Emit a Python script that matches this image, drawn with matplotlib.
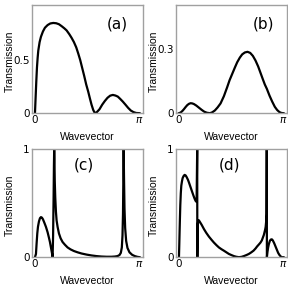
import numpy as np
import matplotlib
matplotlib.use("Agg")
import matplotlib.pyplot as plt

PI = np.pi

# panel (a)
ka = [0, 0.02, 0.04, 0.06, 0.08, 0.10, 0.14, 0.18, 0.24, 0.30, 0.38, 0.46, 0.55,
      0.64, 0.72, 0.80, 0.88, 0.95, 1.03, 1.10, 1.17, 1.24, 1.30, 1.36, 1.42, 1.48,
      1.54, 1.60, 1.65, 1.70, 1.75, 1.80, 1.86, 1.94, 2.02, 2.10, 2.18, 2.26, 2.34,
      2.42, 2.49, 2.56, 2.64, 2.72, 2.80, 2.88, 2.96, 3.04, PI]
ta = [0, 0.15, 0.30, 0.43, 0.52, 0.59, 0.67, 0.72, 0.77, 0.805, 0.83, 0.845, 0.85,
      0.847, 0.838, 0.82, 0.80, 0.78, 0.745, 0.71, 0.67, 0.62, 0.5625, 0.50, 0.425, 0.35,
      0.27, 0.203, 0.14, 0.08, 0.031, 0, 0.01, 0.0375, 0.08, 0.115, 0.145, 0.165, 0.172,
      0.166, 0.156, 0.135, 0.109, 0.08, 0.05, 0.025, 0.01, 0.002, 0]

# panel (b)
kb = [0, 0.05, 0.10, 0.15, 0.20, 0.25, 0.30, 0.35, 0.40, 0.45, 0.52, 0.60, 0.68,
      0.76, 0.84, 0.93, 1.00, 1.08, 1.16, 1.25, 1.35, 1.45, 1.52, 1.60, 1.68, 1.75,
      1.83, 1.90, 1.98, 2.06, 2.14, 2.22, 2.30, 2.38, 2.45, 2.52, 2.58, 2.64, 2.72,
      2.80, 2.88, 2.95, 3.02, 3.08, PI]
tb = [0, 0.003, 0.01, 0.019, 0.029, 0.038, 0.044, 0.047, 0.046, 0.043, 0.036, 0.026, 0.016,
      0.007, 0.002, 0, 0.004, 0.013, 0.027, 0.046, 0.08, 0.123, 0.155, 0.185, 0.215, 0.24,
      0.262, 0.277, 0.286, 0.289, 0.284, 0.27, 0.248, 0.22, 0.19, 0.16, 0.135, 0.115, 0.083,
      0.055, 0.03, 0.015, 0.005, 0.001, 0]

# panel (c)
kc = [0, 0.03, 0.05, 0.07, 0.09, 0.12, 0.15, 0.18, 0.21, 0.24, 0.28, 0.33, 0.38,
      0.42, 0.45, 0.48, 0.51, 0.53, 0.545, 0.56, 0.57, 0.578, 0.585, 0.595, 0.61, 0.63,
      0.65, 0.68, 0.72, 0.77, 0.83, 0.90, 0.98, 1.07, 1.17, 1.28, 1.40, 1.55, 1.70,
      1.85, 2.00, 2.15, 2.30, 2.40, 2.48, 2.54, 2.58, 2.61, 2.63, 2.645, 2.655, 2.665,
      2.675, 2.69, 2.71, 2.74, 2.78, 2.84, 2.92, 3.00, 3.08, PI]
tc = [0, 0.03, 0.13, 0.22, 0.28, 0.33, 0.36, 0.37, 0.365, 0.35, 0.32, 0.28, 0.23,
      0.18, 0.14, 0.09, 0.04, 0, 0.2, 0.55, 0.85, 1.0, 0.9, 0.7, 0.55, 0.42,
      0.34, 0.28, 0.22, 0.175, 0.14, 0.115, 0.09, 0.072, 0.057, 0.045, 0.034, 0.024, 0.016,
      0.01, 0.006, 0.004, 0.004, 0.006, 0.01, 0.02, 0.04, 0.09, 0.2, 0.4, 0.7, 1.0,
      0.75, 0.45, 0.27, 0.15, 0.085, 0.045, 0.022, 0.01, 0.003, 0]

# panel (d)
kd = [0, 0.01, 0.02, 0.03, 0.04, 0.055, 0.07, 0.09, 0.11, 0.14, 0.17, 0.20, 0.23,
      0.27, 0.30, 0.35, 0.40, 0.44, 0.47, 0.50, 0.53, 0.548, 0.552, 0.56, 0.57, 0.58,
      0.60, 0.63, 0.68, 0.75, 0.82, 0.90, 0.98, 1.05, 1.13, 1.20, 1.28, 1.35, 1.43,
      1.50, 1.58, 1.65, 1.72, 1.80, 1.88, 1.95, 2.03, 2.10, 2.17, 2.24, 2.30, 2.35,
      2.40, 2.45, 2.49, 2.52, 2.55, 2.57, 2.59, 2.605, 2.62, 2.63, 2.638, 2.642, 2.66,
      2.68, 2.70, 2.73, 2.76, 2.79, 2.82, 2.86, 2.90, 2.94, 2.98, 3.02, 3.06, 3.09, PI]
td = [0, 0.12, 0.25, 0.37, 0.48, 0.59, 0.66, 0.70, 0.73, 0.75, 0.76, 0.755, 0.74,
      0.715, 0.69, 0.645, 0.60, 0.565, 0.54, 0.52, 0.51, 1.0, 0.0, 0.2, 0.31, 0.34,
      0.34, 0.325, 0.30, 0.26, 0.225, 0.19, 0.16, 0.135, 0.11, 0.09, 0.073, 0.06, 0.044,
      0.03, 0.019, 0.01, 0.004, 0.0, 0.003, 0.01, 0.02, 0.03, 0.044, 0.06, 0.08, 0.10,
      0.117, 0.135, 0.155, 0.18, 0.205, 0.23, 0.255, 0.28, 0.33, 0.40, 1.0, 0.0, 0.05,
      0.09, 0.12, 0.15, 0.163, 0.165, 0.155, 0.13, 0.10, 0.07, 0.04, 0.02, 0.006, 0, 0]

panels = [
    (ka, ta, 1.02, [0, 0.5], ["0", "0.5"], "(a)", (0.77, 0.82)),
    (kb, tb, 0.51, [0, 0.3], ["0", "0.3"], "(b)", (0.79, 0.82)),
    (kc, tc, 1.0, [0, 1], ["0", "1"], "(c)", (0.47, 0.85)),
    (kd, td, 1.0, [0, 1], ["0", "1"], "(d)", (0.48, 0.85)),
]

fig = plt.figure(figsize=(2.88, 2.88), dpi=100)
rects = [
    [0.111, 0.607, 0.385, 0.376],
    [0.611, 0.607, 0.385, 0.376],
    [0.111, 0.107, 0.385, 0.376],
    [0.611, 0.107, 0.385, 0.376],
]
for rect, (k, t, ytop, yt, ytl, lab, lpos) in zip(rects, panels):
    ax = fig.add_axes(rect)
    ax.plot(k, t, color="black", lw=1.6, solid_joinstyle="round")
    ax.set_xlim(-0.09, PI + 0.1)
    ax.set_ylim(0, ytop)
    ax.set_xticks([0, PI])
    ax.set_xticklabels(["0", r"$\pi$"])
    ax.set_yticks(yt)
    ax.set_yticklabels(ytl)
    ax.tick_params(length=0, labelsize=7.5, pad=1.5, colors="black")
    for s in ax.spines.values():
        s.set_color("#a0a0a0")
        s.set_linewidth(1.0)
    ax.set_xlabel("Wavevector", fontsize=7.5, family="Liberation Sans")
    ax.set_ylabel("Transmission", fontsize=7.5, family="Liberation Sans")
    ax.xaxis.set_label_coords(0.5, -0.17)
    ax.yaxis.set_label_coords(-0.155, 0.48)
    ax.text(lpos[0], lpos[1], lab, transform=ax.transAxes, fontsize=11,
            ha="center", va="center")

fig.savefig("out.png", dpi=100)
